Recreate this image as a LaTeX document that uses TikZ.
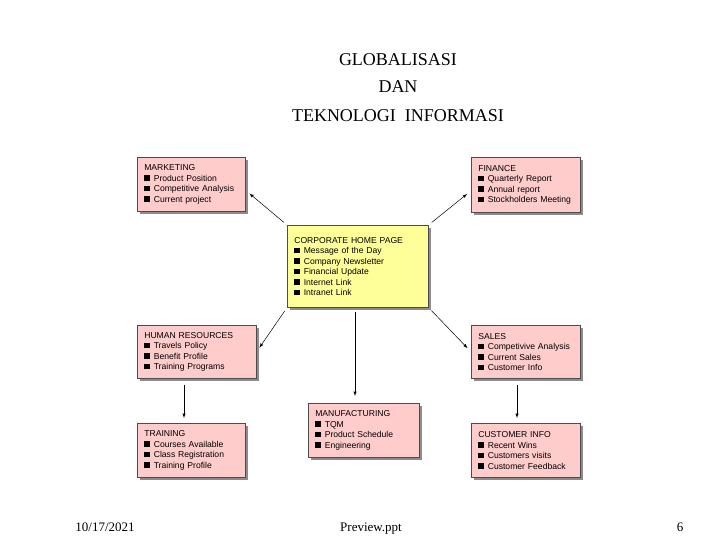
\documentclass[tikz,border=0pt]{standalone}
\usepackage{fontspec}
\setmainfont{Liberation Serif}
\newfontfamily\boxfont{Liberation Sans}
\usetikzlibrary{shadows}

\definecolor{pinkbox}{RGB}{255,204,204}
\definecolor{yellowbox}{RGB}{255,255,153}
\newcommand{\bul}{\rule[0.5pt]{5.5pt}{5.5pt}\hspace{4pt}}

\tikzset{
  infobox/.style={draw=black!70, line width=0.6pt, fill=pinkbox, anchor=north west,
    align=left, inner xsep=7pt, font=\boxfont\fontsize{8.6}{10.5}\selectfont,
    drop shadow={shadow xshift=3pt, shadow yshift=-3pt, fill=black!45, opacity=1}},
  titletext/.style={anchor=base, font=\fontsize{18}{20}\selectfont},
  foottext/.style={anchor=base, font=\fontsize{13}{15}\selectfont},
  link/.style={-latex, line width=0.5pt, shorten <=4pt, shorten >=5pt}
}

\begin{document}
\begin{tikzpicture}[x=1pt, y=-1pt]
	\useasboundingbox[fill=white] (0,0) rectangle (720,540);

	% title
	\node[titletext] (t1) at (398,66) {GLOBALISASI};
	\node[titletext] (t2) at (398,93) {DAN};
	\node[titletext] (t3) at (398,122) {TEKNOLOGI\ \ INFORMASI};

	% boxes
	\node[infobox, text width=94pt, minimum height=54pt] (mkt) at (137,157)
		{MARKETING\\ \bul Product Position\\ \bul Competitive Analysis\\ \bul Current project};
	\node[infobox, text width=95pt, minimum height=55pt] (fin) at (471,157)
		{FINANCE\\ \bul Quarterly Report\\ \bul Annual report\\ \bul Stockholders Meeting};
	\node[infobox, fill=yellowbox, text width=127pt, minimum height=82pt] (corp) at (287,225)
		{CORPORATE HOME PAGE\\ \bul Message of the Day\\ \bul Company Newsletter\\ \bul Financial Update\\ \bul Internet Link\\ \bul Intranet Link};
	\node[infobox, text width=105pt, minimum height=53pt] (hr) at (137,325)
		{HUMAN RESOURCES\\ \bul Travels Policy\\ \bul Benefit Profile\\ \bul Training Programs};
	\node[infobox, text width=95pt, minimum height=53pt] (sales) at (471,325)
		{SALES\\ \bul Competivive Analysis\\ \bul Current Sales\\ \bul Customer Info};
	\node[infobox, text width=94pt, minimum height=54pt] (train) at (137,423)
		{TRAINING\\ \bul Courses Available\\ \bul Class Registration\\ \bul Training Profile};
	\node[infobox, text width=97pt, minimum height=54pt] (manu) at (308,403)
		{MANUFACTURING\\ \bul TQM\\ \bul Product Schedule\\ \bul Engineering};
	\node[infobox, text width=95pt, minimum height=54pt] (cust) at (471,423)
		{CUSTOMER INFO\\ \bul Recent Wins\\ \bul Customers visits\\ \bul Customer Feedback};

	% links
	\draw[link] (corp.north west) -- ([yshift=-6pt]mkt.east);
	\draw[link] (corp.north east) -- ([yshift=-6pt]fin.west);
	\draw[link] (corp.south west) -- (hr.east);
	\draw[link] (corp.south east) -- (sales.west);
	\draw[link, shorten >=7pt] ([xshift=68pt]corp.south west) -- ([xshift=47pt]manu.north west);
	\draw[link, shorten <=6pt] ([xshift=47pt]hr.south west) -- ([xshift=47pt]train.north west);
	\draw[link, shorten <=6pt] ([xshift=46pt]sales.south west) -- ([xshift=46pt]cust.north west);

	% footer
	\node[foottext] (date) at (105,531) {10/17/2021};
	\node[foottext] (file) at (371,531) {Preview.ppt};
	\node[foottext] (page) at (680,531) {6};
\end{tikzpicture}
\end{document}
